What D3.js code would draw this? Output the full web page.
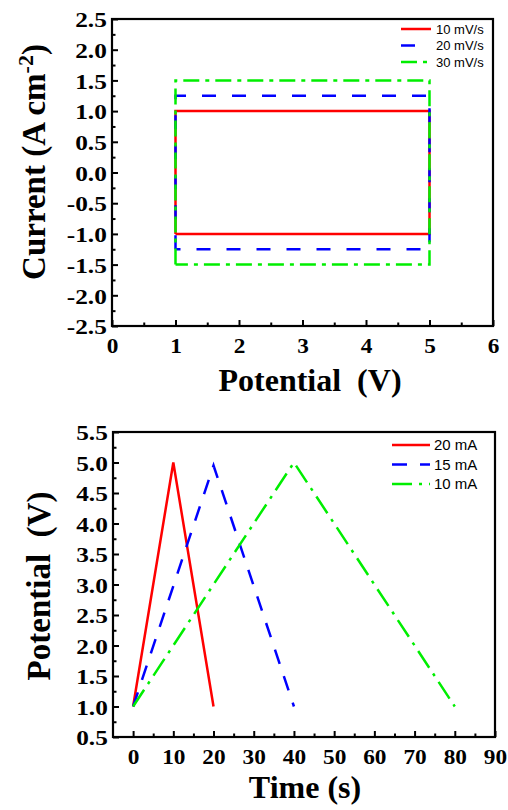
<!DOCTYPE html>
<html>
<head>
<meta charset="utf-8">
<script src="https://cdn.jsdelivr.net/npm/d3@7/dist/d3.min.js"></script>
<style>
  html, body { margin: 0; padding: 0; background: #fff; }
  svg { display: block; }
</style>
</head>
<body>
<svg id="fig" width="508" height="810"></svg>
<script>
// ---- Cyclic voltammetry (rectangular loops at three scan rates) ----
const cvLabels = ["10 mV/s", "20 mV/s", "30 mV/s"];
const cvPotential = [1, 1, 5, 5, 1];
const cv10 = [-1.0, 1.0, 1.0, -1.0, -1.0];
const cv20 = [-1.25, 1.25, 1.25, -1.25, -1.25];
const cv30 = [-1.5, 1.5, 1.5, -1.5, -1.5];
const cvXTicks = [0, 1, 2, 3, 4, 5, 6];
const cvYTicks = [-2.5, -2.0, -1.5, -1.0, -0.5, 0.0, 0.5, 1.0, 1.5, 2.0, 2.5];

// ---- Galvanostatic charge / discharge at three currents ----
const gcdLabels = ["20 mA", "15 mA", "10 mA"];
const gcdTime20 = [0, 10, 20];
const gcdVolt20 = [1.0, 5.0, 1.0];
const gcdTime15 = [0, 20, 40];
const gcdVolt15 = [1.0, 4.95, 1.0];
const gcdTime10 = [0, 40, 80];
const gcdVolt10 = [1.0, 5.0, 1.0];
const gcdXTicks = [0, 10, 20, 30, 40, 50, 60, 70, 80, 90];
const gcdYTicks = [0.5, 1.0, 1.5, 2.0, 2.5, 3.0, 3.5, 4.0, 4.5, 5.0, 5.5];

const SERIF = "'Liberation Serif','Times New Roman',serif";
const SANS = "'Liberation Sans',Arial,sans-serif";
const RED = "#ff0000", BLUE = "#0000ff", GREEN = "#00ee00";

const svg = d3.select("#fig");

function midpoints(ticks) {
  const m = [];
  for (let i = 0; i < ticks.length - 1; i++) m.push((ticks[i] + ticks[i + 1]) / 2);
  return m;
}

function drawPanel(p) {
  const x = d3.scaleLinear().domain(p.xDomain).range([p.left, p.right]);
  const y = d3.scaleLinear().domain(p.yDomain).range([p.bottom, p.top]);
  const g = svg.append("g");

  // series
  p.series.forEach(s => {
    const pts = s.xs.map((v, i) => [v, s.ys[i]]);
    g.append("path")
      .attr("d", d3.line().x(d => x(d[0])).y(d => y(d[1]))(pts))
      .attr("fill", "none")
      .attr("stroke", s.color)
      .attr("stroke-width", 2.5)
      .attr("stroke-dasharray", s.dash || null)
      .attr("stroke-linejoin", "miter");
  });

  // frame
  g.append("rect")
    .attr("x", p.left).attr("y", p.top)
    .attr("width", p.right - p.left).attr("height", p.bottom - p.top)
    .attr("fill", "none").attr("stroke", "#000").attr("stroke-width", 2.2);

  // minor ticks (inward)
  g.append("g").attr("transform", `translate(0,${p.bottom})`)
    .call(d3.axisBottom(x).tickValues(midpoints(p.xTicks)).tickSize(-3.5).tickFormat(""))
    .call(a => a.select(".domain").remove())
    .call(a => a.selectAll("line").attr("stroke-width", 2));
  g.append("g").attr("transform", `translate(${p.left},0)`)
    .call(d3.axisLeft(y).tickValues(midpoints(p.yTicks)).tickSize(-3.5).tickFormat(""))
    .call(a => a.select(".domain").remove())
    .call(a => a.selectAll("line").attr("stroke-width", 2));

  // major ticks with labels
  g.append("g").attr("transform", `translate(0,${p.bottom})`)
    .call(d3.axisBottom(x).tickValues(p.xTicks).tickSize(-6).tickFormat(p.xFmt))
    .call(a => a.select(".domain").remove())
    .call(a => a.selectAll("line").attr("stroke-width", 2))
    .call(a => a.selectAll("text")
      .attr("y", p.xLabelBase).attr("dy", null)
      .attr("transform", "scale(1.06,1)")
      .attr("font-family", SERIF).attr("font-weight", "bold")
      .attr("font-size", 22).attr("fill", "#000"));
  g.append("g").attr("transform", `translate(${p.left},0)`)
    .call(d3.axisLeft(y).tickValues(p.yTicks).tickSize(-6).tickFormat(p.yFmt))
    .call(a => a.select(".domain").remove())
    .call(a => a.selectAll("line").attr("stroke-width", 2))
    .call(a => a.selectAll("text")
      .attr("x", -4.5).attr("dy", "0.35em")
      .attr("transform", "scale(1.15,1)")
      .attr("font-family", SERIF).attr("font-weight", "bold")
      .attr("font-size", 22).attr("fill", "#000"));

  // axis titles
  g.append("text")
    .attr("x", p.xTitleX).attr("y", p.xTitleY)
    .attr("text-anchor", "middle")
    .attr("font-family", SERIF).attr("font-weight", "bold").attr("font-size", 32)
    .style("white-space", "pre")
    .text(p.xTitle);
  const yt = g.append("text")
    .attr("transform", `translate(${p.yTitleX},${p.yTitleY}) rotate(-90)`)
    .attr("text-anchor", "middle")
    .attr("font-family", SERIF).attr("font-weight", "bold").attr("font-size", 33)
    .style("white-space", "pre");
  p.yTitle(yt);

  // legend
  p.series.forEach((s, i) => {
    const ly = p.legend.y0 + i * p.legend.dy;
    g.append("line")
      .attr("x1", p.legend.x1).attr("x2", p.legend.x2)
      .attr("y1", ly).attr("y2", ly)
      .attr("stroke", s.color).attr("stroke-width", 2.5)
      .attr("stroke-dasharray", s.dash || null);
    g.append("text")
      .attr("x", p.legend.tx).attr("y", ly).attr("dy", "0.36em")
      .attr("font-family", SANS).attr("font-size", p.legend.fs)
      .text(s.label);
  });
}

const fmt1 = d => d.toFixed(1);
const fmt0 = d => String(d);

drawPanel({
  left: 112, right: 493, top: 19, bottom: 326,
  xDomain: [0, 6], yDomain: [-2.5, 2.5],
  xTicks: cvXTicks, yTicks: cvYTicks,
  xFmt: fmt0, yFmt: fmt1,
  xLabelBase: 27,
  xTitle: "Potential  (V)", xTitleX: 310, xTitleY: 391,
  yTitleX: 45, yTitleY: 162,
  yTitle: t => {
    t.append("tspan").text("Current (A cm");
    t.append("tspan").attr("font-size", 22).attr("dy", -12).text("-2");
    t.append("tspan").attr("dy", 12).text(")");
  },
  series: [
    { label: cvLabels[0], xs: cvPotential, ys: cv10, color: RED },
    { label: cvLabels[1], xs: cvPotential, ys: cv20, color: BLUE, dash: "14 16" },
    { label: cvLabels[2], xs: cvPotential, ys: cv30, color: GREEN, dash: "16 6 4 6" }
  ],
  legend: { x1: 401, x2: 431, tx: 436, y0: 29, dy: 16.5, fs: 13 }
});

drawPanel({
  left: 113, right: 495, top: 432, bottom: 737,
  xDomain: [-5, 90], yDomain: [0.5, 5.5],
  xTicks: gcdXTicks, yTicks: gcdYTicks,
  xFmt: fmt0, yFmt: fmt1,
  xLabelBase: 27,
  xTitle: "Time (s)", xTitleX: 305, xTitleY: 798,
  yTitleX: 50, yTitleY: 586,
  yTitle: t => t.text("Potential  (V)"),
  series: [
    { label: gcdLabels[0], xs: gcdTime20, ys: gcdVolt20, color: RED },
    { label: gcdLabels[1], xs: gcdTime15, ys: gcdVolt15, color: BLUE, dash: "15 13" },
    { label: gcdLabels[2], xs: gcdTime10, ys: gcdVolt10, color: GREEN, dash: "20 7 3 7" }
  ],
  legend: { x1: 392, x2: 430, tx: 434, y0: 445, dy: 19.5, fs: 15 }
});
</script>
</body>
</html>
